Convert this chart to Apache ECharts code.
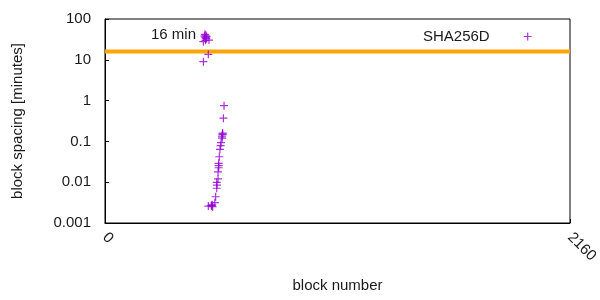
<!DOCTYPE html>
<html>
<head>
<meta charset="utf-8">
<script src="https://cdn.jsdelivr.net/npm/echarts@6/dist/echarts.min.js"></script>
<style>html,body{margin:0;padding:0;background:#fff}#c{width:600px;height:300px}</style>
</head>
<body>
<div id="c"></div>
<script>
// Data
var seriesName = 'SHA256D';
var blockNumbers = [457, 462, 464, 466, 468, 467, 470, 472, 483, 480, 457,
  553, 550, 545, 543, 546, 544, 547, 539, 537, 534, 531, 528, 528, 528, 525, 525,
  519, 520, 519, 514, 510, 496, 500, 494, 498, 480];
var blockSpacing = [27.8, 38, 42, 35, 40, 30, 33, 37, 30.5, 13.6, 9.0,
  0.75, 0.37, 0.144, 0.13, 0.16, 0.12, 0.15, 0.093, 0.0785, 0.064, 0.042, 0.029, 0.0254, 0.0226, 0.018, 0.012,
  0.0099, 0.0085, 0.0071, 0.0044, 0.00315, 0.0026, 0.0025, 0.0027, 0.0028, 0.0026];
var targetLabel = '16 min';
var targetMinutes = 16;
var xRange = [0, 2160];
var yRange = [0.001, 100];

var points = blockNumbers.map(function (b, i) { return [b, blockSpacing[i]]; });
var targetLine = [[xRange[0], targetMinutes], [xRange[1], targetMinutes]];

var plus = 'path://M6.8,0H9.2V6.8H16V9.2H9.2V16H6.8V9.2H0V6.8H6.8Z';
var txt = '#1a1a1a';
var font = 'Liberation Sans';

var chart = echarts.init(document.getElementById('c'), null, {renderer: 'canvas'});
chart.setOption({
  animation: false,
  backgroundColor: '#fff',
  grid: {left: 105, right: 30, top: 19, bottom: 77, show: true, borderColor: '#000', borderWidth: 1,
    containLabel: false, outerBoundsMode: 'none'},
  legend: {
    data: [{name: seriesName, icon: plus}],
    left: 418, top: 24,
    align: 'right',
    itemWidth: 8, itemHeight: 8,
    textStyle: {fontFamily: font, fontSize: 15, color: txt, padding: [0, 29, 0, 0]}
  },
  graphic: [{
    type: 'text', left: 151, top: 27,
    style: {text: targetLabel, font: '15px "Liberation Sans"', fill: txt}
  }],
  xAxis: {
    type: 'value', min: xRange[0], max: xRange[1], interval: 2160,
    name: 'block number', nameLocation: 'middle', nameGap: 55,
    nameTextStyle: {fontFamily: font, fontSize: 15, color: txt},
    axisLine: {show: true, lineStyle: {color: '#000'}},
    axisTick: {show: true, inside: true, length: 4, lineStyle: {color: '#000'}},
    axisLabel: {rotate: -45, fontFamily: font, fontSize: 15, color: txt, margin: 12,
      formatter: function (v) { return String(v); }},
    splitLine: {show: false}
  },
  yAxis: {
    type: 'log', logBase: 10, min: yRange[0], max: yRange[1],
    name: 'block spacing [minutes]', nameLocation: 'middle', nameGap: 80,
    nameTextStyle: {fontFamily: font, fontSize: 15, color: txt},
    axisLine: {show: true, lineStyle: {color: '#000'}},
    axisTick: {show: true, inside: true, length: 4, lineStyle: {color: '#000'}},
    axisLabel: {fontFamily: font, fontSize: 15, color: txt, margin: 14,
      formatter: function (v) { return String(+v.toPrecision(3)); }},
    splitLine: {show: false}
  },
  series: [{
    name: targetLabel, type: 'line', data: targetLine, symbol: 'none',
    lineStyle: {color: '#FFA500', width: 4}, z: 1, silent: true
  }, {
    name: seriesName, type: 'scatter', data: points,
    symbol: plus, symbolSize: 8,
    itemStyle: {color: '#9400D3'}, z: 3
  }]
});
</script>
</body>
</html>
